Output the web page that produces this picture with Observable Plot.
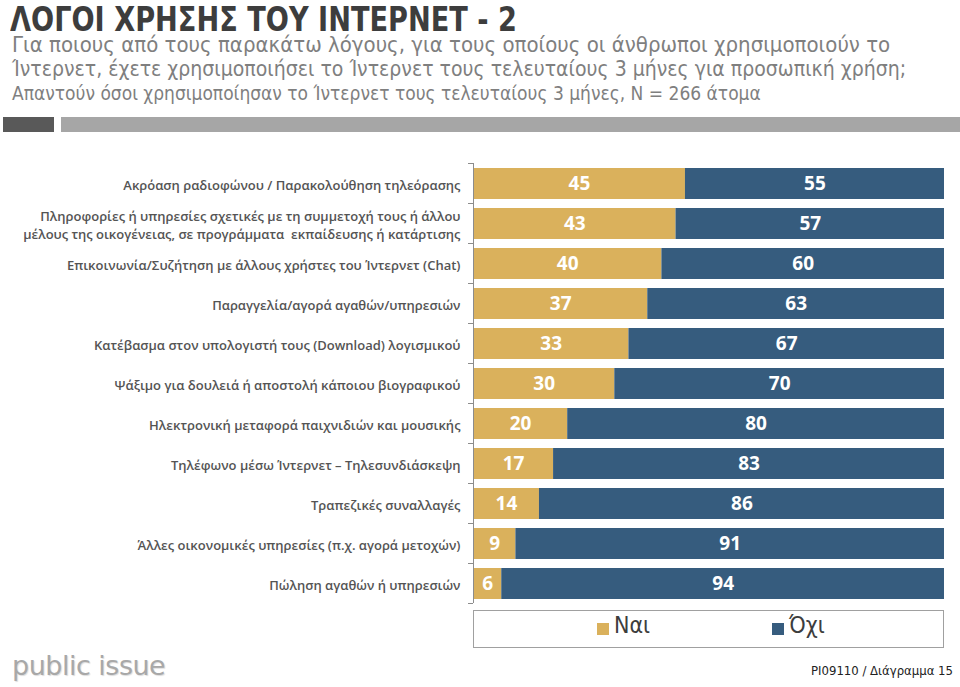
<!DOCTYPE html>
<html><head><meta charset="utf-8">
<script src="https://cdn.jsdelivr.net/npm/d3@7"></script>
<script src="https://cdn.jsdelivr.net/npm/@observablehq/plot@0.6"></script>
<style>
body{margin:0;background:#fff;width:960px;height:687px;overflow:hidden;position:relative;font-family:"Open Sans",sans-serif}
.abs{position:absolute;white-space:nowrap}
.narrow{font-family:"Liberation Sans Narrow","DejaVu Sans Condensed",sans-serif}
#title{left:10px;top:3px;font-weight:bold;font-size:33px;line-height:1;color:#3d3d3d;transform:scaleX(0.916);transform-origin:0 0}
.sub{left:12px;font-size:22px;line-height:1;color:#7f7f7f;transform-origin:0 0}
#bar1{left:3px;top:117px;width:51px;height:15px;background:#595959}
#bar2{left:61px;top:117px;width:899px;height:15px;background:#a6a6a6}
#chart{position:absolute;left:0;top:150px}
#legend{left:473px;top:610px;width:469px;height:36px;border:1px solid #a0a0a0}
.sw{position:absolute;width:12px;height:12px;top:12px}
.lt{position:absolute;top:1px;font-size:23px;color:#3d3d3d}
#logo{left:12px;top:650px;font-family:"DejaVu Sans",sans-serif;font-size:27px;color:#a8a8a8;letter-spacing:-0.5px;text-shadow:1px 1px 1px #ddd}
#code{right:7px;top:663px;font-size:13px;color:#222}
</style></head>
<body>
<div id="title" class="abs narrow">ΛΟΓΟΙ ΧΡΗΣΗΣ ΤΟΥ ΙΝΤΕΡΝΕΤ - 2</div>
<div class="abs sub narrow" style="top:34px">Για ποιους από τους παρακάτω λόγους, για τους οποίους οι άνθρωποι χρησιμοποιούν το</div>
<div class="abs sub narrow" style="top:58px;transform:scaleX(0.957)">Ίντερνετ, έχετε χρησιμοποιήσει το Ίντερνετ τους τελευταίους 3 μήνες για προσωπική χρήση;</div>
<div class="abs sub narrow" style="top:84px;font-size:19px">Απαντούν όσοι χρησιμοποίησαν το Ίντερνετ τους τελευταίους 3 μήνες, Ν = 266 άτομα</div>
<div id="bar1" class="abs"></div><div id="bar2" class="abs"></div>
<div id="chart"></div>
<div id="legend" class="abs">
  <div class="sw" style="left:123px;background:#dab15c"></div><div class="lt narrow" style="left:140px">Ναι</div>
  <div class="sw" style="left:298px;background:#365c7e"></div><div class="lt narrow" style="left:315px">Όχι</div>
</div>
<div id="logo" class="abs">public issue</div>
<div id="code" class="abs narrow">PI09110 / Διάγραμμα 15</div>
<script>
const categories = [
  "Ακρόαση ραδιοφώνου / Παρακολούθηση τηλεόρασης",
  "Πληροφορίες ή υπηρεσίες σχετικές με τη συμμετοχή τους ή άλλου\nμέλους της οικογένειας, σε προγράμματα  εκπαίδευσης ή κατάρτισης",
  "Επικοινωνία/Συζήτηση με άλλους χρήστες του Ίντερνετ (Chat)",
  "Παραγγελία/αγορά αγαθών/υπηρεσιών",
  "Κατέβασμα στον υπολογιστή τους (Download) λογισμικού",
  "Ψάξιμο για δουλειά ή αποστολή κάποιου βιογραφικού",
  "Ηλεκτρονική μεταφορά παιχνιδιών και μουσικής",
  "Τηλέφωνο μέσω Ίντερνετ – Τηλεσυνδιάσκεψη",
  "Τραπεζικές συναλλαγές",
  "Άλλες οικονομικές υπηρεσίες (π.χ. αγορά μετοχών)",
  "Πώληση αγαθών ή υπηρεσιών"
];
const yes = [45, 43, 40, 37, 33, 30, 20, 17, 14, 9, 6];
const no  = [55, 57, 60, 63, 67, 70, 80, 83, 86, 91, 94];
const seriesNames = ["Ναι", "Όχι"];
const seriesColors = ["#dab15c", "#365c7e"];

const rows = [];
categories.forEach((c, i) => {
  rows.push({cat: c, series: seriesNames[0], x1: 0, x2: yes[i], value: yes[i]});
  rows.push({cat: c, series: seriesNames[1], x1: yes[i], x2: yes[i] + no[i], value: no[i]});
});

const chart = Plot.plot({
  width: 960, height: 460,
  marginLeft: 473, marginRight: 16, marginTop: 13, marginBottom: 7,
  x: {domain: [0, 100], axis: null},
  y: {domain: categories, paddingInner: 0.225, paddingOuter: 0.1125, axis: null},
  color: {domain: seriesNames, range: seriesColors},
  style: {fontFamily: "'Open Sans', sans-serif", background: "transparent"},
  marks: [
    Plot.barX(rows, {x1: "x1", x2: "x2", y: "cat", fill: "series"}),
    Plot.text(rows, {x: d => (d.x1 + d.x2) / 2, y: "cat", text: d => String(d.value), fill: "white", fontSize: 19, fontWeight: 700}),
    Plot.ruleX([0], {stroke: "#8c8c8c", strokeWidth: 1}),
    Plot.text(categories, {x: 0, y: d => d, text: d => d, textAnchor: "end", dx: -13, fill: "#545454", fontSize: 13, fontWeight: 600, lineHeight: 1.45})
  ]
});
document.getElementById("chart").appendChild(chart);

// boundary ticks between bands, positioned from the library's y scale
const ys = chart.scale("y");
const svg = d3.select(chart);
const gap = (ys.step - ys.bandwidth) / 2;
const bounds = categories.map(c => ys.apply(c) - gap);
bounds.push(ys.apply(categories[categories.length - 1]) + ys.bandwidth + gap);
const x0 = chart.scale("x").apply(0);
svg.append("g").selectAll("line").data(bounds).join("line")
  .attr("x1", x0 - 5).attr("x2", x0).attr("y1", d => d).attr("y2", d => d)
  .attr("stroke", "#8c8c8c");
</script>
</body></html>
